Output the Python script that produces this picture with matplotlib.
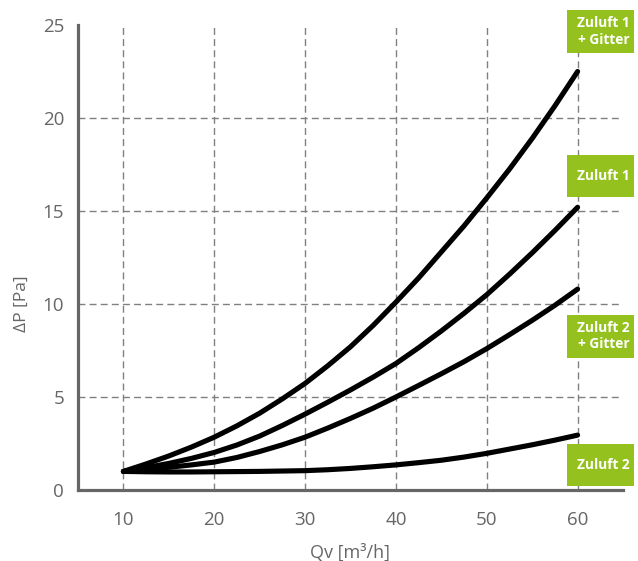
import matplotlib.pyplot as plt
from matplotlib.patches import Rectangle

plt.rcParams["font.family"] = ["Open Sans", "DejaVu Sans"]

# flow rate Qv [m3/h]
qv = [10, 12.5, 15, 17.5, 20, 22.5, 25, 27.5, 30, 32.5, 35,
      37.5, 40, 42.5, 45, 47.5, 50, 52.5, 55, 57.5, 60]

# pressure drop dP [Pa]
dp_zuluft1_gitter = [1.0, 1.4, 1.83, 2.31, 2.84, 3.45, 4.13, 4.9, 5.73, 6.68, 7.7,
                     8.85, 10.1, 11.4, 12.8, 14.2, 15.7, 17.25, 18.9, 20.65, 22.5]
dp_zuluft1 = [1.0, 1.2, 1.43, 1.7, 2.02, 2.42, 2.9, 3.47, 4.08, 4.72, 5.38,
              6.07, 6.8, 7.65, 8.55, 9.5, 10.5, 11.6, 12.75, 13.95, 15.2]
dp_zuluft2_gitter = [1.0, 1.1, 1.22, 1.35, 1.5, 1.75, 2.07, 2.43, 2.84, 3.33, 3.85,
                     4.4, 5.0, 5.62, 6.25, 6.9, 7.6, 8.35, 9.12, 9.93, 10.8]
dp_zuluft2 = [1.0, 0.98, 0.97, 0.97, 0.98, 0.99, 1.0, 1.02, 1.04, 1.09, 1.16,
              1.25, 1.35, 1.47, 1.6, 1.77, 1.97, 2.2, 2.43, 2.68, 2.95]

series = [dp_zuluft1_gitter, dp_zuluft1, dp_zuluft2_gitter, dp_zuluft2]
labels = ["Zuluft 1\n+ Gitter", "Zuluft 1", "Zuluft 2\n+ Gitter", "Zuluft 2"]

GREEN = "#95c11f"
GREY = "#666666"
GRID = "#808080"

fig = plt.figure(figsize=(6.38, 5.61), dpi=100)
ax = fig.add_axes([78 / 638, 1 - 490 / 561, 545 / 638, 465 / 561])

ax.set_xlim(5, 65)
ax.set_ylim(0, 25)

for v in range(10, 61, 10):
    ax.axvline(v, color=GRID, lw=1.0, ls=(0, (5, 3)), zorder=1)
for v in range(5, 21, 5):
    ax.axhline(v, color=GRID, lw=1.0, ls=(0, (5, 3)), zorder=1)

for ys in series:
    ax.plot(qv, ys, color="black", lw=3.7, solid_capstyle="round",
            solid_joinstyle="round", zorder=3)

# green legend tags at the right edge (y ranges in data units)
tag_boxes = [(23.5, 25.8), (15.74, 18.0), (7.12, 9.43), (0.22, 2.48)]
for lab, (y0, y1) in zip(labels, tag_boxes):
    ax.add_patch(Rectangle((58.8, y0), 7.4, y1 - y0, facecolor=GREEN,
                           edgecolor="none", clip_on=False, zorder=4))
    ax.text(65.75, (y0 + y1) / 2, lab, ha="right", va="center",
            fontsize=9.8, fontweight="bold", color="white", linespacing=1.2,
            multialignment="right", clip_on=False, zorder=5)

ax.set_xticks(range(10, 61, 10))
ax.set_yticks(range(0, 26, 5))
ax.tick_params(length=0, labelsize=13.5, colors=GREY)
ax.tick_params(axis="x", pad=15)
ax.tick_params(axis="y", pad=10)

for s in ["top", "right"]:
    ax.spines[s].set_visible(False)
for s in ["left", "bottom"]:
    ax.spines[s].set_color(GREY)
    ax.spines[s].set_linewidth(2.3)

fig.text(22 / 638, 1 - 304 / 561, "ΔP [Pa]", rotation=90, ha="center",
         va="center", fontsize=12.5, color=GREY)
fig.text(350 / 638, 1 - 553 / 561, "Qv [m³/h]", ha="center", va="center",
         fontsize=13, color=GREY)

fig.savefig("out.png", dpi=100, facecolor="white")
